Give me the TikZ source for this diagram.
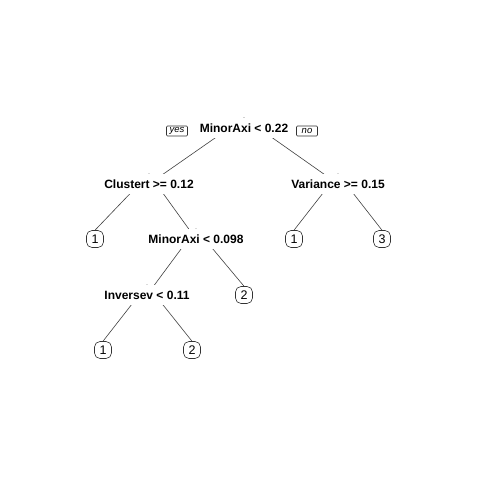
\documentclass[tikz,border=0pt]{standalone}
\usepackage{fontspec}
\setmainfont{Liberation Sans}
\usepackage{tikz}
\usetikzlibrary{positioning,backgrounds}

\begin{document}
\begin{tikzpicture}[x=1pt, y=-1pt,
    split/.style={rectangle, fill=white, inner xsep=2pt, inner ysep=0pt, minimum height=20pt, text height=8.6pt, text depth=0pt, font=\fontsize{12}{14}\selectfont\bfseries},
    leaf/.style={rectangle, rounded corners=5.5pt, draw=black!80, fill=white, line width=0.6pt, inner sep=0pt, minimum width=17pt, minimum height=17pt, text height=8.6pt, text depth=0pt, font=\fontsize{12.5}{14}\selectfont},
    yesno/.style={rectangle, rounded corners=1pt, draw=black!80, line width=0.6pt, inner sep=0pt, minimum width=21pt, minimum height=10pt, font=\fontsize{9.5}{10}\selectfont\itshape},
    branch/.style={draw=black!75, line width=0.6pt}
]
\useasboundingbox (0,0) rectangle (480,480);

% Splits
\node[split] (root) at (244,128) {MinorAxi < 0.22};
\node[split] (clus) at (149,184) {Clustert >= 0.12};
\node[split] (var) at (338,184) {Variance >= 0.15};
\node[split] (minor) at (196,239) {MinorAxi < 0.098};
\node[split] (inv) at (147,295) {Inversev < 0.11};

% yes / no
\node[yesno] (yes) at (177,131) {yes};
\node[yesno] (no) at (307,131) {no};

% Leaves
\node[leaf] (l1) at (95,239) {1};
\node[leaf] (l2) at (294,239) {1};
\node[leaf] (l3) at (382,239) {3};
\node[leaf] (l4) at (244,295) {2};
\node[leaf] (l5) at (103,350) {1};
\node[leaf] (l6) at (192,350) {2};

% Branches
\begin{scope}[on background layer]
\draw[branch] (root.north) -- (clus.center);
\draw[branch] (root.north) -- (var.center);
\draw[branch] (clus.north) -- (l1.north);
\draw[branch] (clus.north) -- (minor.center);
\draw[branch] (var.north) -- (l2.north);
\draw[branch] (var.north) -- (l3.north);
\draw[branch] (minor.north) -- (inv.center);
\draw[branch] (minor.north) -- (l4.north);
\draw[branch] (inv.north) -- (l5.north);
\draw[branch] (inv.north) -- (l6.north);
\end{scope}

\end{tikzpicture}
\end{document}
